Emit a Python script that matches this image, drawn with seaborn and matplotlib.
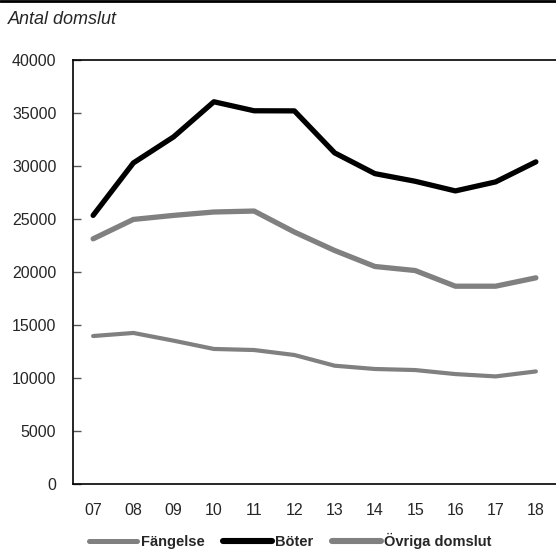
import numpy as np
import pandas as pd
import seaborn as sns
import matplotlib.pyplot as plt
from matplotlib.lines import Line2D

# Data
years = ['07', '08', '09', '10', '11', '12', '13', '14', '15', '16', '17', '18']
fangelse = [13960, 14250, 13520, 12740, 12640, 12170, 11160, 10850, 10750, 10370, 10150, 10620]
boter = [25340, 30290, 32750, 36060, 35210, 35200, 31240, 29280, 28560, 27650, 28500, 30390]
ovriga = [23130, 24960, 25340, 25660, 25750, 23770, 22030, 20520, 20140, 18660, 18660, 19450]

series_names = ['Fängelse', 'Böter', 'Övriga domslut']

df = pd.DataFrame({
    'År': years * 3,
    'Antal': fangelse + boter + ovriga,
    'Typ': [series_names[0]] * 12 + [series_names[1]] * 12 + [series_names[2]] * 12,
})
df['x'] = df['År'].map({y: i for i, y in enumerate(years)})

sns.set_style('white')
fam = ['Liberation Sans', 'DejaVu Sans']
plt.rcParams['font.family'] = fam

fig = plt.figure(figsize=(5.56, 5.49), dpi=100)
ax = fig.add_axes([73 / 556, 1 - 484 / 549, (556 - 73) / 556, (484 - 60) / 549])

palette = {'Fängelse': '#808080', 'Böter': '#000000', 'Övriga domslut': '#808080'}
sizes = {'Fängelse': 3.0, 'Böter': 3.8, 'Övriga domslut': 3.8}
sns.lineplot(data=df, x='x', y='Antal', hue='Typ', size='Typ', sizes=sizes,
             palette=palette, ax=ax, legend=False, solid_capstyle='round')

ax.set_xlim(-0.5, 11.4)
ax.set_ylim(0, 40000)
ax.set_xticks(np.arange(len(years)))
ax.set_xticklabels(years, fontsize=11.5)
ax.set_xticks(np.arange(len(years)) + 0.5, minor=True)
ax.tick_params(axis='x', which='major', length=0, pad=14)
ax.tick_params(axis='x', which='minor', direction='inout', length=11, width=1, color='#000000')
ax.set_yticks(np.arange(0, 40001, 5000))
ax.set_yticklabels([str(v) for v in range(0, 40001, 5000)], fontsize=11.5)
ax.tick_params(axis='y', direction='in', length=6, width=1, color='#555555', pad=12, left=True)
ax.set_xlabel('')
ax.set_ylabel('')

for side in ['left', 'bottom', 'top']:
    ax.spines[side].set_visible(True)
    ax.spines[side].set_color('#000000')
    ax.spines[side].set_linewidth(1.2)
ax.spines['right'].set_visible(False)

fig.text(8 / 556, 1 - 20 / 549, 'Antal domslut', fontsize=13, style='italic',
         ha='left', va='center')

# top rule across the figure
fig.add_artist(Line2D([0, 1], [0.998, 0.998], color='black', linewidth=2, transform=fig.transFigure))

handles = [Line2D([], [], color=palette[n], linewidth=sizes[n] + 0.6, solid_capstyle='round')
           for n in series_names]
fig.legend(handles, series_names, loc='center', bbox_to_anchor=(0.522, 1 - 541 / 549),
           ncol=3, frameon=False, handlelength=3.3, handletextpad=0.25, columnspacing=1.3,
           prop={'size': 10.5, 'weight': 'bold', 'family': fam})

fig.savefig('out.png', dpi=100)
